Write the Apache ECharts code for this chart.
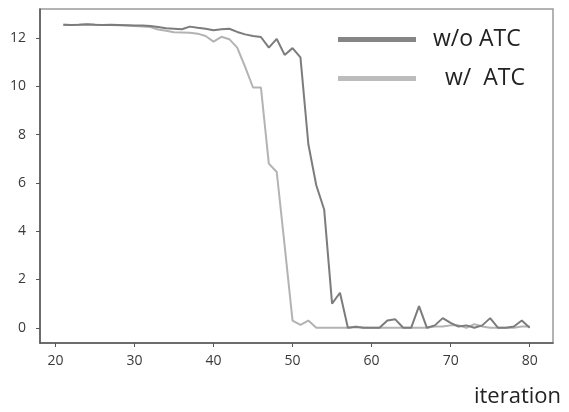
<!DOCTYPE html>
<html>
<head>
<meta charset="utf-8">
<script src="https://cdn.jsdelivr.net/npm/echarts@6/dist/echarts.min.js"></script>
<style>html,body{margin:0;padding:0;background:#fff}#c{width:569px;height:412px}</style>
</head>
<body>
<div id="c"></div>
<script>
var iterations = [];
for (var i = 21; i <= 80; i++) iterations.push(i);
var xTicks = [20, 30, 40, 50, 60, 70, 80];
var yTicks = [0, 2, 4, 6, 8, 10, 12];
var seriesNames = ['w/o ATC', 'w/  ATC'];
var woATC = [
  12.55, 12.54, 12.55, 12.57, 12.55, 12.54, 12.55, 12.54, 12.53, 12.52,
  12.52, 12.50, 12.45, 12.40, 12.38, 12.36, 12.47, 12.42, 12.38, 12.32,
  12.36, 12.38, 12.25, 12.15, 12.08, 12.04, 11.60, 11.96, 11.30, 11.58,
  11.20, 7.60, 5.90, 4.90, 1.00, 1.45, 0.00, 0.03, 0.00, 0.00,
  0.00, 0.30, 0.35, 0.00, 0.00, 0.90, 0.00, 0.10, 0.40, 0.20,
  0.05, 0.10, 0.00, 0.10, 0.40, 0.00, 0.00, 0.05, 0.30, 0.00
];
var wATC = [
  12.55, 12.54, 12.55, 12.56, 12.55, 12.54, 12.54, 12.53, 12.52, 12.50,
  12.48, 12.45, 12.35, 12.30, 12.24, 12.23, 12.22, 12.18, 12.08, 11.85,
  12.05, 11.95, 11.60, 10.80, 9.95, 9.95, 6.80, 6.45, 3.40, 0.30,
  0.12, 0.30, 0.00, 0.00, 0.00, 0.00, 0.00, 0.05, 0.00, 0.00,
  0.00, 0.00, 0.00, 0.00, 0.00, 0.00, 0.00, 0.05, 0.05, 0.10,
  0.10, 0.00, 0.15, 0.05, 0.00, 0.00, 0.00, 0.00, 0.05, 0.05
];
function pairs(vals) { return iterations.map(function (x, k) { return [x, vals[k]]; }); }

var chart = echarts.init(document.getElementById('c'), null, {renderer: 'canvas'});
var tickFont = {color: '#3a3a3a', fontSize: 14, fontFamily: 'Open Sans'};
chart.setOption({
  animation: false,
  backgroundColor: '#fff',
  grid: {left: 40, right: 16, top: 9, bottom: 69, show: true, borderColor: '#9a9a9a', borderWidth: 1.5, containLabel: false},
  xAxis: {
    type: 'value', min: 18.05, max: 82.95,
    name: 'iteration', nameLocation: 'end',
    nameTextStyle: {color: '#222', fontSize: 22, fontFamily: 'Open Sans', align: 'right', verticalAlign: 'top', padding: [43, 0, 0, 0]},
    nameGap: 8,
    axisLine: {show: true, onZero: false, lineStyle: {color: '#555', width: 1.5}},
    axisTick: {show: true, length: 4, customValues: xTicks, lineStyle: {color: '#555'}},
    axisLabel: {customValues: xTicks, margin: 11, ...tickFont},
    splitLine: {show: false}
  },
  yAxis: {
    type: 'value', min: -0.63, max: 13.2,
    axisLine: {show: true, onZero: false, lineStyle: {color: '#555', width: 1.5}},
    axisTick: {show: true, length: 4, customValues: yTicks, lineStyle: {color: '#555'}},
    axisLabel: {customValues: yTicks, margin: 14, ...tickFont},
    splitLine: {show: false}
  },
  legend: {
    orient: 'vertical', left: 338, top: 28, itemGap: 16, padding: 0,
    itemWidth: 78, itemHeight: 5,
    textStyle: {
      color: '#222', fontSize: 23, fontFamily: 'Open Sans',
      rich: {
        a: {fontSize: 23, fontFamily: 'Open Sans', color: '#222', padding: [0, 0, 0, 12]},
        b: {fontSize: 23, fontFamily: 'Open Sans', color: '#222', padding: [0, 0, 0, 24]}
      }
    },
    formatter: function (n) { return n === seriesNames[1] ? '{b|' + n + '}' : '{a|' + n + '}'; },
    data: [
      {name: seriesNames[0], icon: 'rect', itemStyle: {color: '#858585'}},
      {name: seriesNames[1], icon: 'rect', itemStyle: {color: '#bcbcbc'}}
    ]
  },
  series: [
    {name: seriesNames[0], type: 'line', data: pairs(woATC), showSymbol: false, symbol: 'none',
     lineStyle: {color: '#7c7c7c', width: 2}, itemStyle: {color: '#858585'}, z: 3},
    {name: seriesNames[1], type: 'line', data: pairs(wATC), showSymbol: false, symbol: 'none',
     lineStyle: {color: '#b3b3b3', width: 2}, itemStyle: {color: '#bcbcbc'}, z: 2}
  ]
});
</script>
</body>
</html>
